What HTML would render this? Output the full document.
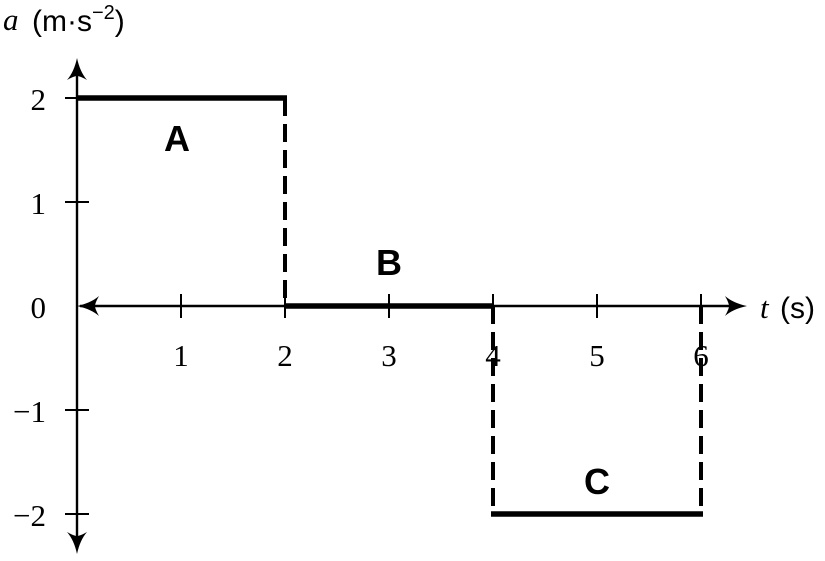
<!DOCTYPE html>
<html><head><style>body{margin:0;background:#fff}</style></head><body>
<svg width="825" height="556" viewBox="0 0 825 556" xmlns="http://www.w3.org/2000/svg">
<g stroke="#000" fill="none">
<line x1="77" y1="64" x2="77" y2="546" stroke-width="2.4"/>
<line x1="80" y1="306" x2="738" y2="306" stroke-width="2.4"/>
</g>
<g fill="#000">
<path d="M77,58 Q80,72 87,80 Q80,76 77,76 Q74,76 67,80 Q74,72 77,58Z"/>
<path d="M77,554 Q80,540 87,532 Q80,536 77,536 Q74,536 67,532 Q74,540 77,554Z"/>
<path d="M747,306 Q733,309 725,316 Q729,309 729,306 Q729,303 725,296 Q733,303 747,306Z"/>
<path d="M77,306 Q91,309 99,316 Q95,309 95,306 Q95,303 99,296 Q91,303 77,306Z"/>
</g>
<g stroke="#000" fill="none">
<g stroke-width="2">
<line x1="65" y1="98" x2="89" y2="98"/><line x1="65" y1="202" x2="89" y2="202"/>
<line x1="65" y1="410" x2="89" y2="410"/><line x1="65" y1="514" x2="89" y2="514"/>
<line x1="181" y1="294" x2="181" y2="318"/><line x1="285" y1="294" x2="285" y2="318"/>
<line x1="389" y1="294" x2="389" y2="318"/><line x1="493" y1="294" x2="493" y2="318"/>
<line x1="597" y1="294" x2="597" y2="318"/><line x1="701" y1="294" x2="701" y2="318"/>
</g>
<g stroke-width="5.5">
<line x1="77" y1="98" x2="287" y2="98"/>
<line x1="285" y1="306" x2="493" y2="306"/>
<line x1="491" y1="514" x2="703" y2="514"/>
</g>
<g stroke-width="4" stroke-dasharray="18 8">
<line x1="285" y1="98" x2="285" y2="306"/>
<line x1="493" y1="306" x2="493" y2="514"/>
<line x1="701" y1="306" x2="701" y2="514"/>
</g>
</g>
<g font-family="Liberation Serif, serif" font-size="31" fill="#000">
<text x="46" y="110" text-anchor="end">2</text>
<text x="46" y="214" text-anchor="end">1</text>
<text x="46" y="318" text-anchor="end">0</text>
<text x="46" y="422" text-anchor="end">−1</text>
<text x="46" y="526" text-anchor="end">−2</text>
<text x="181" y="366" text-anchor="middle">1</text>
<text x="285" y="366" text-anchor="middle">2</text>
<text x="389" y="366" text-anchor="middle">3</text>
<text x="493" y="366" text-anchor="middle">4</text>
<text x="597" y="366" text-anchor="middle">5</text>
<text x="701" y="366" text-anchor="middle">6</text>
<text x="3" y="30" font-style="italic">a</text>
<text x="760" y="318" font-style="italic">t</text>
</g>
<g font-family="Liberation Sans, sans-serif" font-size="30" fill="#000">
<text x="32" y="31">(m·s<tspan font-size="20" dy="-12">−2</tspan><tspan dy="12">)</tspan></text>
<text x="780" y="318">(s)</text>
</g>
<g font-family="Liberation Sans, sans-serif" font-size="36" font-weight="bold" fill="#000" text-anchor="middle">
<text x="177" y="151">A</text>
<text x="389" y="275">B</text>
<text x="597" y="494">C</text>
</g>
</svg>
</body></html>
